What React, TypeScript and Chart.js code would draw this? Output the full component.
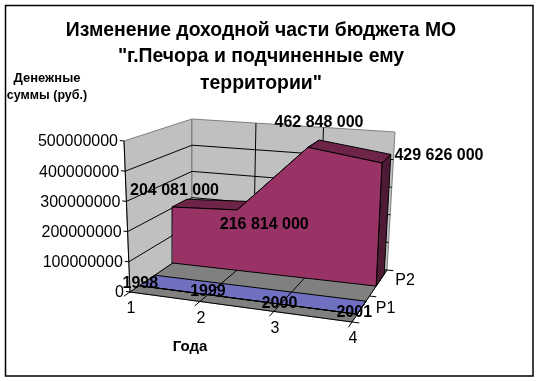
import React, { useEffect, useRef } from "react";
import { Chart, registerables } from "chart.js";

Chart.register(...registerables);

const titleLines = ["Изменение доходной части бюджета МО", '"г.Печора и подчиненные ему', 'территории"'];
const yAxisTitle = ["Денежные", "суммы (руб.)"];
const xAxisTitle = "Года";
const categoryTicks = ["1", "2", "3", "4"];
const seriesNames = ["P1", "P2"];
const yTicks = [0, 100000000, 200000000, 300000000, 400000000, 500000000];
const p1Values = [1998, 1999, 2000, 2001];
const p2Values = [204081000, 216814000, 462848000, 429626000];
const p1Labels = ["1998", "1999", "2000", "2001"];
const p2Labels = ["204 081 000", "216 814 000", "462 848 000", "429 626 000"];

const FONT = '"Liberation Sans", Arial, sans-serif';
const Y_MAX = 500000000;

// Corners of the 3D box in canvas space: [u][v][d]
const CORNERS = {
  f00: [130, 292], f10: [352, 322], b00: [192, 250], b10: [387, 270],
  f01: [124, 141], f11: [356, 167], b01: [192, 119], b11: [395, 132],
};
const BAND = { p1: [0.15, 0.4], p2: [0.69, 0.92] };

const warp = (u: number) => u / (1 + 0.087 * (1 - u));
const mix = (a: number[], b: number[], t: number) => [a[0] + (b[0] - a[0]) * t, a[1] + (b[1] - a[1]) * t];

function project(uRaw: number, v: number, d: number) {
  const u = warp(uRaw);
  const c = CORNERS;
  const f = mix(mix(c.f00, c.f10, u), mix(c.f01, c.f11, u), v);
  const b = mix(mix(c.b00, c.b10, u), mix(c.b01, c.b11, u), v);
  const p = mix(f, b, d);
  return { x: p[0], y: p[1] };
}

const catU = (i: number) => i / (categoryTicks.length - 1);
const valV = (y: number) => y / Y_MAX;

type Shape = { pts: { x: number; y: number }[]; fill?: string; line: string };
const shapes: Shape[] = [];
const poly = (pts: { x: number; y: number }[], fill: string | undefined, line: string) =>
  shapes.push({ pts: [...pts, pts[0]], fill, line });
const seg = (a: { x: number; y: number }, b: { x: number; y: number }, line = "#000000") =>
  shapes.push({ pts: [a, b], line });

// walls and floor
poly([project(0, 0, 0), project(0, 1, 0), project(0, 1, 1), project(0, 0, 1)], "#C0C0C0", "#808080");
poly([project(0, 0, 1), project(0, 1, 1), project(1, 1, 1), project(1, 0, 1)], "#C0C0C0", "#808080");
poly([project(0, 0, 0), project(1, 0, 0), project(1, 0, 1), project(0, 0, 1)], "#808080", "#808080");
// wall gridlines
yTicks.slice(1, -1).forEach((t) => {
  const v = valV(t);
  seg(project(0, v, 0), project(0, v, 1));
  seg(project(0, v, 1), project(1, v, 1));
});
seg(project(0, 0, 0), project(0, 0, 1));
seg(project(0, 0, 1), project(1, 0, 1));
categoryTicks.slice(1, -1).forEach((_, i) => {
  const u = catU(i + 1);
  seg(project(u, 0, 0), project(u, 0, 1));
  seg(project(u, 0, 1), project(u, 1, 1));
});

// series ribbons
function ribbon(values: number[], band: number[], top: string, front: string, side: string) {
  const [d1, d2] = band;
  const last = values.length - 1;
  for (let i = 0; i < last; i++) {
    const u0 = catU(i), u1 = catU(i + 1), v0 = valV(values[i]), v1 = valV(values[i + 1]);
    poly([project(u0, v0, d1), project(u1, v1, d1), project(u1, v1, d2), project(u0, v0, d2)], top, "#000000");
  }
  poly(
    [project(1, 0, d1), project(1, valV(values[last]), d1), project(1, valV(values[last]), d2), project(1, 0, d2)],
    side,
    "#000000"
  );
  const frontPts = values.map((val, i) => project(catU(i), valV(val), d1));
  poly([project(0, 0, d1), ...frontPts, project(1, 0, d1)], front, "#000000");
}
ribbon(p2Values, BAND.p2, "#6E2448", "#993366", "#4F1A35");
ribbon(p1Values, BAND.p1, "#7070C0", "#7070C0", "#7070C0");

// axis lines and ticks
seg(project(0, 0, 0), project(0, 1, 0));
seg(project(0, 0, 0), project(1, 0, 0));
seg(project(1, 0, 0), project(1, 0, 1));
yTicks.forEach((t) => seg(project(0, valV(t), 0), project(-0.02, valV(t), 0)));
categoryTicks.forEach((_, i) => seg(project(catU(i), 0, 0), project(catU(i), 0, -0.1)));
[0, 0.5, 1].forEach((d) => seg(project(1, 0, d), project(1.03, 0, d)));

const p1LabelOffset = [[1, -2], [0, -3], [-1, -1], [-3, -2]];
const p2LabelOffset = [[2.5, -16], [27, 15], [11, -25], [57, -7]];
const catLabelOffset = [1, 17];
const seriesLabelAnchor = [[0.5, 16, 13], [1, 18, 11]];

const labelPlugin = {
  id: "labels",
  beforeDraw(chart: any) {
    const { ctx } = chart;
    ctx.save();
    ctx.fillStyle = "#FFFFFF";
    ctx.fillRect(0, 0, chart.width, chart.height);
    ctx.strokeStyle = "#000000";
    ctx.lineWidth = 1.5;
    ctx.strokeRect(5.5, 5.5, 527.5, 370.5);
    ctx.restore();
  },
  beforeDatasetDraw(chart: any, args: any) {
    const ds = chart.data.datasets[args.index];
    if (!ds.areaColor) return;
    const { ctx } = chart;
    const pts = args.meta.data;
    ctx.save();
    ctx.beginPath();
    pts.forEach((p: any, i: number) => (i ? ctx.lineTo(p.x, p.y) : ctx.moveTo(p.x, p.y)));
    ctx.closePath();
    ctx.fillStyle = ds.areaColor;
    ctx.fill();
    ctx.restore();
  },
  afterDatasetsDraw(chart: any) {
    const { ctx, scales } = chart;
    const px = (p: { x: number; y: number }) => ({ x: scales.x.getPixelForValue(p.x), y: scales.y.getPixelForValue(p.y) });
    const text = (s: string, x: number, y: number, font: string, align: CanvasTextAlign = "center") => {
      ctx.font = font;
      ctx.textAlign = align;
      ctx.textBaseline = "middle";
      ctx.fillStyle = "#000000";
      ctx.fillText(s, x, y);
    };
    ctx.save();
    yTicks.forEach((t) => {
      const p = px(project(0, valV(t), 0));
      text(String(t), p.x - 6, p.y + 1, `16px ${FONT}`, "right");
    });
    categoryTicks.forEach((c, i) => {
      const p = px(project(catU(i), 0, 0));
      text(c, p.x + catLabelOffset[0], p.y + catLabelOffset[1], `16px ${FONT}`);
    });
    seriesNames.forEach((n, i) => {
      const [d, ox, oy] = seriesLabelAnchor[i];
      const p = px(project(1, 0, d));
      text(n, p.x + ox, p.y + oy, `16px ${FONT}`);
    });
    text(yAxisTitle[0], 47, 78, `bold 13px ${FONT}`);
    text(yAxisTitle[1], 47, 96, `bold 12.5px ${FONT}`);
    text(xAxisTitle, 190, 347, `bold 15px ${FONT}`);
    p2Labels.forEach((s, i) => {
      const p = px(project(catU(i), valV(p2Values[i]), BAND.p2[0]));
      text(s, p.x + p2LabelOffset[i][0], p.y + p2LabelOffset[i][1], `bold 16px ${FONT}`);
    });
    p1Labels.forEach((s, i) => {
      const p = px(project(catU(i), valV(p1Values[i]), BAND.p1[0]));
      text(s, p.x + p1LabelOffset[i][0], p.y + p1LabelOffset[i][1], `bold 16px ${FONT}`);
    });
    ctx.restore();
  },
};

export default function App() {
  const ref = useRef<HTMLCanvasElement>(null);
  useEffect(() => {
    document.body.style.margin = "0";
    const chart = new Chart(ref.current!, {
      type: "scatter",
      data: {
        datasets: shapes.map((s, i) => ({
          data: s.pts,
          showLine: true,
          pointRadius: 0,
          borderWidth: 1,
          borderColor: s.line,
          areaColor: s.fill,
          order: shapes.length - i,
          tension: 0,
        })) as any,
      },
      options: {
        animation: false,
        responsive: false,
        devicePixelRatio: 1,
        layout: { padding: { right: 17 } },
        scales: {
          x: { type: "linear", min: 0, max: 522, display: false },
          y: { type: "linear", min: 100, max: 381, reverse: true, display: false },
        },
        plugins: {
          legend: { display: false },
          tooltip: { enabled: false },
          title: {
            display: true,
            text: titleLines,
            color: "#000000",
            font: { family: FONT, size: 19.4, weight: "bold", lineHeight: 1.366 },
            padding: { top: 17, bottom: 3.5 },
          },
        },
      },
      plugins: [labelPlugin],
    } as any);
    return () => chart.destroy();
  }, []);
  return <canvas ref={ref} width={539} height={381} style={{ display: "block" }} />;
}
